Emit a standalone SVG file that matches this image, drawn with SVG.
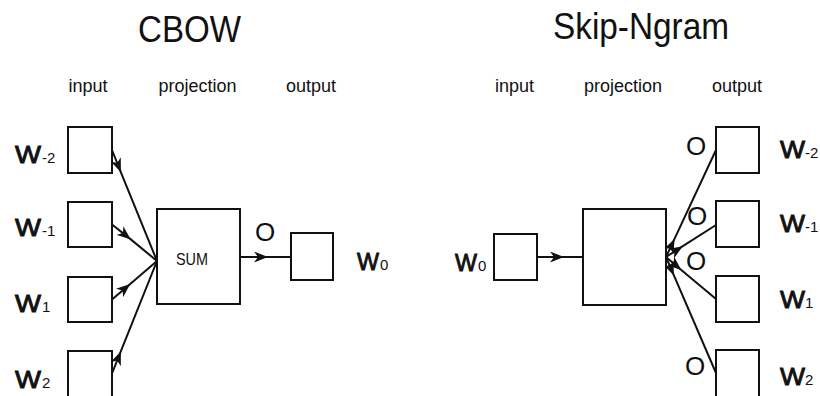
<svg xmlns="http://www.w3.org/2000/svg" width="820" height="396" viewBox="0 0 820 396">
<style>
  .bx{fill:#fff;stroke:#111;stroke-width:2}
  .ln{fill:none;stroke:#111;stroke-width:2;marker-mid:url(#ah)}
  .t{font-family:"Liberation Sans",Arial,Helvetica,sans-serif;fill:#111}
  .title{font-size:37px}
  .hd{font-size:18px}
  .w{font-size:24px;stroke:#111;stroke-width:0.9}
  .sb{font-size:15px}
  .o{font-size:26px}
</style>
<defs>
  <marker id="ah" markerWidth="14" markerHeight="11" viewBox="0 0 14 11" refX="14" refY="5.5" orient="auto" markerUnits="userSpaceOnUse">
    <path d="M0,0 L14,5.5 L0,11 L4,5.5 Z" fill="#111"/>
  </marker>
</defs>
<rect width="820" height="396" fill="#fff"/>

<g id="titles">
  <text class="t title" x="138" y="42" textLength="103" lengthAdjust="spacingAndGlyphs">CBOW</text>
  <text class="t title" x="553" y="39" textLength="176" lengthAdjust="spacingAndGlyphs">Skip-Ngram</text>
  <text class="t hd" x="88" y="92" text-anchor="middle">input</text>
  <text class="t hd" x="197.5" y="92" text-anchor="middle">projection</text>
  <text class="t hd" x="311" y="92" text-anchor="middle">output</text>
  <text class="t hd" x="514.5" y="92" text-anchor="middle">input</text>
  <text class="t hd" x="623" y="92" text-anchor="middle">projection</text>
  <text class="t hd" x="737" y="92" text-anchor="middle">output</text>
</g>

<g id="connectors">
  <path class="ln" d="M112,150 L120.9,172.3 L157,261"/>
  <path class="ln" d="M112,224.5 L130.8,239.4 L157,261"/>
  <path class="ln" d="M112,299.5 L130.2,283.9 L157,261"/>
  <path class="ln" d="M112,373.5 L120.9,351.2 L157,261"/>
  <path class="ln" d="M240,257 L268,257 L291,257"/>
  <path class="ln" d="M537,257 L564,257 L583,257"/>
  <path class="ln" d="M666,257 L674.5,238.9 L716,150"/>
  <path class="ln" d="M666,257 L682.8,246.2 L716,225"/>
  <path class="ln" d="M666,257 L681.3,269.9 L716,299"/>
  <path class="ln" d="M666,257 L673.9,275.4 L716,373"/>
</g>

<g id="cbow-in-w-2">
  <rect class="bx" x="68" y="127" width="44" height="46"/>
  <text class="t w" x="15" y="163" textLength="26" lengthAdjust="spacingAndGlyphs">W</text>
  <text class="t sb" x="42" y="163">-2</text>
</g>
<g id="cbow-in-w-1">
  <rect class="bx" x="68" y="202" width="44" height="45"/>
  <text class="t w" x="15" y="236" textLength="26" lengthAdjust="spacingAndGlyphs">W</text>
  <text class="t sb" x="42" y="236">-1</text>
</g>
<g id="cbow-in-w1">
  <rect class="bx" x="68" y="277" width="44" height="45"/>
  <text class="t w" x="15" y="312" textLength="26" lengthAdjust="spacingAndGlyphs">W</text>
  <text class="t sb" x="42" y="312">1</text>
</g>
<g id="cbow-in-w2">
  <rect class="bx" x="68" y="351" width="44" height="47"/>
  <text class="t w" x="15" y="388" textLength="26" lengthAdjust="spacingAndGlyphs">W</text>
  <text class="t sb" x="42" y="388">2</text>
</g>
<g id="cbow-sum">
  <rect class="bx" x="157" y="209" width="83" height="95"/>
  <text class="t" x="192" y="265" font-size="17" text-anchor="middle" textLength="32" lengthAdjust="spacingAndGlyphs">SUM</text>
</g>
<g id="cbow-out">
  <text class="t o" x="265" y="241" text-anchor="middle">O</text>
  <rect class="bx" x="291" y="233" width="42" height="47"/>
  <text class="t w" x="357" y="270" textLength="22" lengthAdjust="spacingAndGlyphs">W</text>
  <text class="t sb" x="380" y="270">0</text>
</g>

<g id="skip-in">
  <text class="t w" x="455" y="271" textLength="22" lengthAdjust="spacingAndGlyphs">W</text>
  <text class="t sb" x="478" y="271">0</text>
  <rect class="bx" x="494" y="234" width="43" height="46"/>
</g>
<g id="skip-proj">
  <rect class="bx" x="583" y="209" width="83" height="96"/>
</g>
<g id="skip-out-w-2">
  <text class="t o" x="696" y="155" text-anchor="middle">O</text>
  <rect class="bx" x="716" y="127" width="43" height="46"/>
  <text class="t w" x="780" y="158" textLength="25" lengthAdjust="spacingAndGlyphs">W</text>
  <text class="t sb" x="805" y="158">-2</text>
</g>
<g id="skip-out-w-1">
  <text class="t o" x="697" y="225" text-anchor="middle">O</text>
  <rect class="bx" x="716" y="201" width="43" height="46"/>
  <text class="t w" x="780" y="232" textLength="25" lengthAdjust="spacingAndGlyphs">W</text>
  <text class="t sb" x="805" y="232">-1</text>
</g>
<g id="skip-out-w1">
  <text class="t o" x="696" y="270" text-anchor="middle">O</text>
  <rect class="bx" x="716" y="276" width="43" height="46"/>
  <text class="t w" x="780" y="308" textLength="25" lengthAdjust="spacingAndGlyphs">W</text>
  <text class="t sb" x="805" y="308">1</text>
</g>
<g id="skip-out-w2">
  <text class="t o" x="695" y="375" text-anchor="middle">O</text>
  <rect class="bx" x="716" y="350" width="43" height="48"/>
  <text class="t w" x="780" y="385" textLength="25" lengthAdjust="spacingAndGlyphs">W</text>
  <text class="t sb" x="805" y="385">2</text>
</g>
</svg>
